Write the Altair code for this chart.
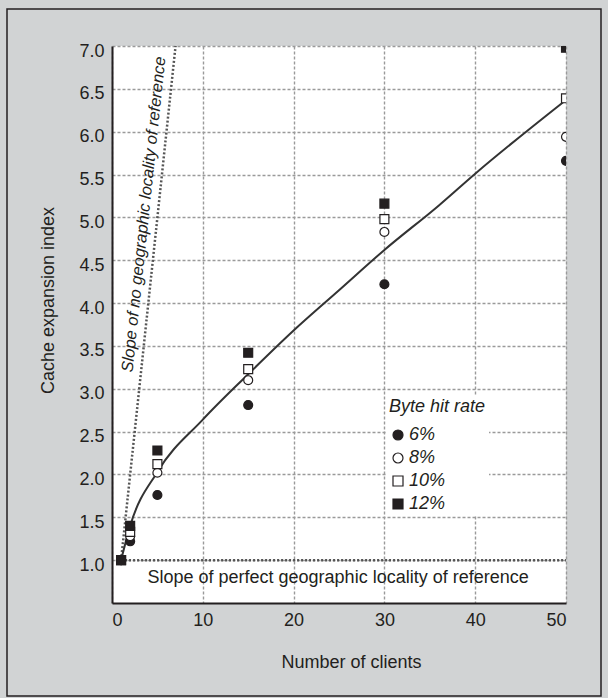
import altair as alt
import pandas as pd

# ---------------- data ----------------
rates = ["6%", "8%", "10%", "12%"]
clients = [1, 2, 5, 15, 30, 50]
rate_6 = [1.0, 1.22, 1.76, 2.81, 4.22, 5.66]
rate_8 = [1.0, 1.28, 2.02, 3.10, 4.83, 5.94]
rate_10 = [1.0, 1.33, 2.12, 3.23, 4.98, 6.39]
rate_12 = [1.0, 1.40, 2.28, 3.42, 5.16, 6.98]

curve_x = [1, 2, 5, 10, 15, 20, 25, 30, 36, 40, 50]
curve_y = [1.0, 1.40, 2.03, 2.64, 3.17, 3.68, 4.15, 4.62, 5.14, 5.51, 6.37]

no_loc_x = [1, 7.2]
no_loc_y = [1, 7.2]
perfect_x = [1, 50]
perfect_y = [1, 1]

x_ticks = [0, 10, 20, 30, 40, 50]
y_ticks = [1.0, 1.5, 2.0, 2.5, 3.0, 3.5, 4.0, 4.5, 5.0, 5.5, 6.0, 6.5, 7.0]

ann_text = ["Slope of no geographic locality of reference",
            "Slope of perfect geographic locality of reference"]
ann_x = [5.9, 24.9]
ann_y = [6.87, 0.79]

FONT = "Liberation Sans"
INK = "#231f20"

# ---------------- tables ----------------
rows = []
for r, vals in zip(rates, [rate_6, rate_8, rate_10, rate_12]):
    for c, v in zip(clients, vals):
        rows.append({"clients": c, "index": v, "rate": r})
pts = pd.DataFrame(rows)
curve = pd.DataFrame({"clients": curve_x, "index": curve_y})
noloc = pd.DataFrame({"clients": no_loc_x, "index": no_loc_y})
perf = pd.DataFrame({"clients": perfect_x, "index": perfect_y})
ann_d = pd.DataFrame({"clients": [ann_x[0]], "index": [ann_y[0]], "t": [ann_text[0]]})
ann_h = pd.DataFrame({"clients": [ann_x[1]], "index": [ann_y[1]], "t": [ann_text[1]]})

xs = alt.Scale(domain=[0, 50], nice=False, zero=False)
ys = alt.Scale(domain=[0.5, 7.0], nice=False, zero=False)

X = alt.X("clients:Q", scale=xs, axis=alt.Axis(
    values=x_ticks, format="d", title="Number of clients",
    grid=True, gridColor="#9a9a9a", gridDash=[3, 2], gridWidth=1.4,
    domainColor=INK, domainWidth=2, ticks=False, tickSize=0,
    labelPadding=17, labelBaseline="middle", labelFontSize=18, labelFont=FONT,
    labelColor=INK, titleFont=FONT, titleFontSize=18, titleFontWeight="normal",
    titleColor=INK, titleX=239, titleY=59, titleBaseline="middle",
    titleAnchor="start", titleAlign="center"))
Y = alt.Y("index:Q", scale=ys, axis=alt.Axis(
    values=y_ticks, format=".1f", title="Cache expansion index",
    grid=True, gridColor="#9a9a9a", gridDash=[3, 2], gridWidth=1.4,
    domainColor=INK, domainWidth=2, ticks=False, tickSize=0,
    labelPadding=8, labelBaseline="middle", labelOffset=5, labelFontSize=18,
    labelFont=FONT, labelColor=INK, titleFont=FONT, titleFontSize=18,
    titleFontWeight="normal", titleColor=INK, titleAngle=-90,
    titleX=-64, titleY=254, titleAlign="center", titleBaseline="middle",
    titleAnchor="start"))

base_x = alt.X("clients:Q", scale=xs)
base_y = alt.Y("index:Q", scale=ys)

noloc_line = alt.Chart(noloc).mark_line(
    color="#555", strokeWidth=2.5, strokeDash=[2, 2], clip=True
).encode(x=X, y=Y)

perf_line = alt.Chart(perf).mark_line(
    color="#555", strokeWidth=2.5, strokeDash=[2, 2], clip=True
).encode(x=base_x, y=base_y)

curve_line = alt.Chart(curve).mark_line(
    color="#333", strokeWidth=2, interpolate="monotone", clip=True
).encode(x=base_x, y=base_y)

leg = alt.Legend(
    title="Byte hit rate", orient="none", legendX=274, legendY=349,
    titleFont=FONT, titleFontStyle="italic", titleFontWeight="normal",
    titleFontSize=18, titleColor=INK, titlePadding=10,
    labelFont=FONT, labelFontStyle="italic", labelFontSize=18, labelColor=INK,
    labelOffset=2, symbolSize=100, symbolStrokeColor=INK, symbolStrokeWidth=1.2,
    rowPadding=5, fillColor="white", padding=3)

points = alt.Chart(pts).mark_point(
    filled=True, strokeWidth=1.2, size=80, opacity=1, clip=True
).encode(
    x=base_x, y=base_y,
    shape=alt.Shape("rate:N", sort=rates, scale=alt.Scale(
        domain=rates, range=["circle", "circle", "square", "square"]), legend=leg),
    fill=alt.Fill("rate:N", sort=rates, scale=alt.Scale(
        domain=rates, range=[INK, "white", "white", INK]), legend=leg),
    stroke=alt.Stroke("rate:N", sort=rates, scale=alt.Scale(
        domain=rates, range=[INK, INK, INK, INK]), legend=leg),
)

text_diag = alt.Chart(ann_d).mark_text(
    angle=276, align="right", baseline="alphabetic", font=FONT,
    fontStyle="italic", fontSize=16.5, color=INK
).encode(x=base_x, y=base_y, text="t:N")

text_h = alt.Chart(ann_h).mark_text(
    align="center", baseline="middle", font=FONT, fontSize=18, color=INK
).encode(x=base_x, y=base_y, text="t:N")

frame = alt.Chart(pd.DataFrame({"a": [0]})).mark_rect(
    fill=None, fillOpacity=0, stroke=INK, strokeWidth=1.5, clip=False
).encode(x=alt.value(-105), x2=alt.value(489), y=alt.value(-37), y2=alt.value(650))

chart = alt.layer(
    noloc_line, perf_line, curve_line, points, text_diag, text_h, frame
).properties(
    width=454, height=557,
    autosize=alt.AutoSizeParams(type="none"),
    padding={"left": 112, "top": 46, "right": 42, "bottom": 95},
    background="#d1d3d4",
).configure_view(fill="white", strokeWidth=0)

chart.save("out.html", embed_options={"renderer": "svg", "actions": False})
